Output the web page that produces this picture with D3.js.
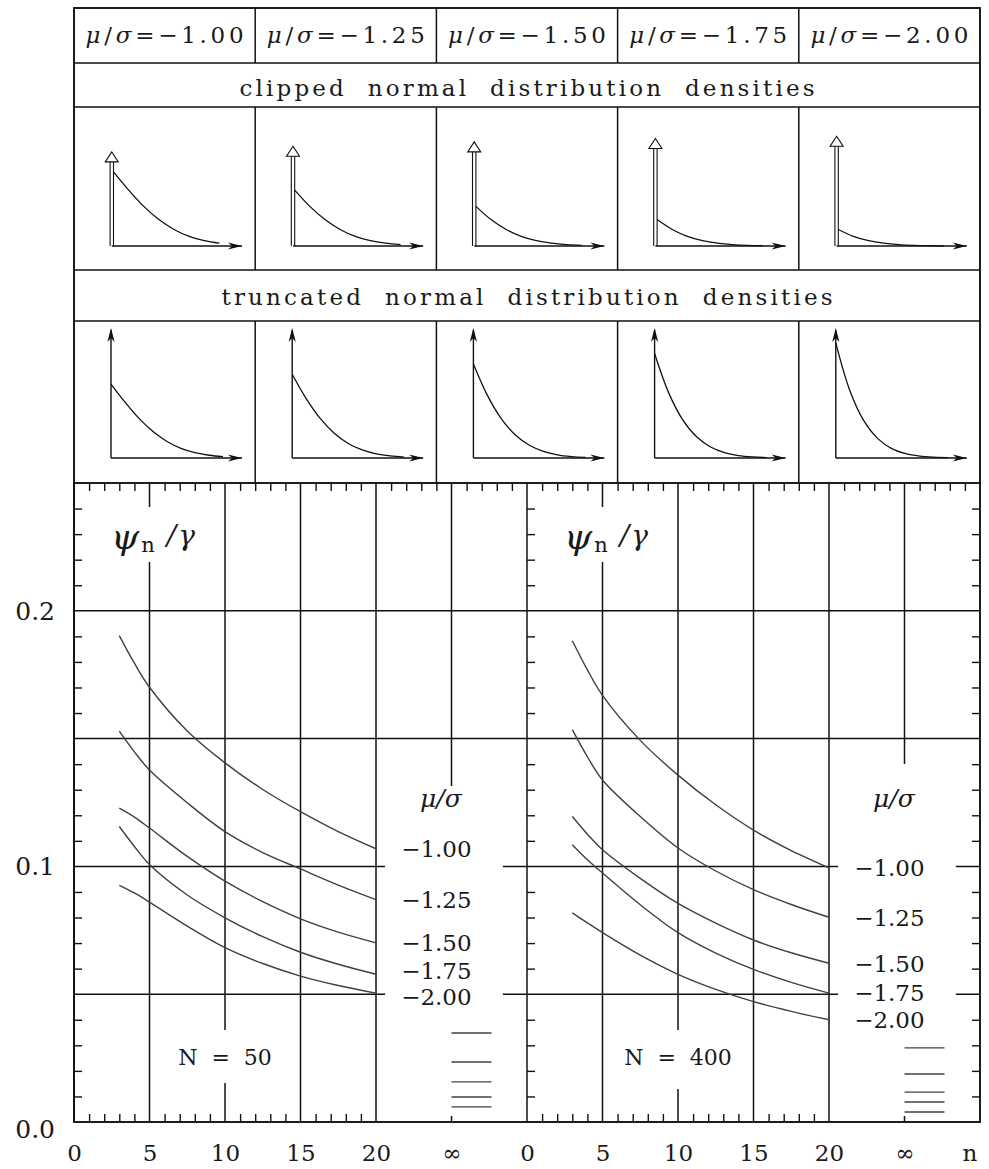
<!DOCTYPE html>
<html>
<head>
<meta charset="utf-8">
<script src="https://cdn.jsdelivr.net/npm/d3@7"></script>
<style>
  body { margin: 0; background: #fff; }
  svg text { font-family: "DejaVu Serif", serif; fill: #1a1a1a; }
</style>
</head>
<body>
<div class="chart"></div>
<script>
// ---- data ----
var muSigma = [-1.00, -1.25, -1.50, -1.75, -2.00];
var sampleSizes = [50, 400];

// psi_n / gamma at these n, one row per mu/sigma
var nValues = [3, 4, 5, 7.5, 10, 12.5, 15, 17.5, 20];
var psiN50 = [
  [0.1903, 0.1795, 0.1701, 0.1530, 0.1405, 0.1301, 0.1214, 0.1136, 0.1069],
  [0.1529, 0.1448, 0.1377, 0.1249, 0.1136, 0.1054, 0.0990, 0.0927, 0.0870],
  [0.1228, 0.1193, 0.1150, 0.1039, 0.0942, 0.0862, 0.0795, 0.0743, 0.0701],
  [0.1156, 0.1078, 0.1007, 0.0888, 0.0799, 0.0725, 0.0664, 0.0617, 0.0578],
  [0.0926, 0.0896, 0.0860, 0.0766, 0.0682, 0.0620, 0.0571, 0.0534, 0.0504]
];
var psiN400 = [
  [0.1883, 0.1769, 0.1669, 0.1493, 0.1357, 0.1241, 0.1142, 0.1062, 0.0994],
  [0.1535, 0.1429, 0.1338, 0.1195, 0.1072, 0.0982, 0.0909, 0.0851, 0.0801],
  [0.1195, 0.1126, 0.1065, 0.0953, 0.0855, 0.0778, 0.0712, 0.0662, 0.0621],
  [0.1085, 0.1026, 0.0974, 0.0850, 0.0741, 0.0661, 0.0597, 0.0546, 0.0504],
  [0.0818, 0.0779, 0.0741, 0.0653, 0.0578, 0.0519, 0.0471, 0.0433, 0.0400]
];
// values at n = infinity (short legend strokes)
var psiInfN50 = [0.0348, 0.0235, 0.0157, 0.0098, 0.0059];
var psiInfN400 = [0.0290, 0.0188, 0.0117, 0.0078, 0.0039];

var xTickValues = [0, 5, 10, 15, 20];
var yTickValues = [0.0, 0.1, 0.2];

// clipped normal: point mass at 0 and density for x > 0
var clipMass = [0.84, 0.89, 0.93, 0.96, 0.98];
var clipX = [0, 0.25, 0.5, 0.75, 1.0, 1.25, 1.5, 1.75];
var clipDensity = [
  [0.2420, 0.1826, 0.1295, 0.0863, 0.0540, 0.0317, 0.0175, 0.0091],
  [0.1826, 0.1295, 0.0863, 0.0540, 0.0317, 0.0175, 0.0091, 0.0044],
  [0.1295, 0.0863, 0.0540, 0.0317, 0.0175, 0.0091, 0.0044, 0.0020],
  [0.0863, 0.0540, 0.0317, 0.0175, 0.0091, 0.0044, 0.0020, 0.0009],
  [0.0540, 0.0317, 0.0175, 0.0091, 0.0044, 0.0020, 0.0009, 0.0004]
];
// truncated normal density
var truncX = [0, 0.25, 0.5, 0.75, 1.0, 1.25, 1.5, 1.75, 2.0];
var truncDensity = [
  [1.525, 1.151, 0.816, 0.544, 0.340, 0.200, 0.110, 0.057, 0.028],
  [1.728, 1.226, 0.817, 0.511, 0.300, 0.166, 0.086, 0.042, 0.019],
  [1.938, 1.292, 0.808, 0.474, 0.262, 0.136, 0.066, 0.030, 0.013],
  [2.154, 1.348, 0.791, 0.437, 0.227, 0.110, 0.050, 0.022, 0.009],
  [2.374, 1.393, 0.769, 0.400, 0.193, 0.088, 0.038, 0.016, 0.006]
];

// ---- layout ----
var width = 989, height = 1169;
var L = 74, R = 980, T = 8, B = 1122;
var rowY = [8, 63, 107, 270, 321, 483];   // table rows
var colW = (R - L) / 5;
var panelW = (R - L) / 2;
var ink = "#111";
var curveInk = "#404040";
var fmtMu = d3.format(".2f");

var svg = d3.select(".chart")
  .append("svg")
  .attr("width", width)
  .attr("height", height);

// ---- table frame ----
var frame = svg.append("g").attr("stroke", ink).attr("stroke-width", 1.5).attr("fill", "none");
frame.append("rect").attr("x", L).attr("y", T).attr("width", R - L).attr("height", B - T);
rowY.slice(1).forEach(function(y) {
  frame.append("line").attr("x1", L).attr("x2", R).attr("y1", y).attr("y2", y);
});
[[rowY[0], rowY[1]], [rowY[2], rowY[3]], [rowY[4], rowY[5]]].forEach(function(r) {
  d3.range(1, 5).forEach(function(k) {
    frame.append("line").attr("x1", L + k * colW).attr("x2", L + k * colW)
      .attr("y1", r[0]).attr("y2", r[1]);
  });
});

// header cells
muSigma.forEach(function(m, i) {
  var t = svg.append("text")
    .attr("x", L + (i + 0.5) * colW)
    .attr("y", 43)
    .attr("text-anchor", "middle")
    .attr("font-size", 23)
    .attr("textLength", 158)
    .attr("lengthAdjust", "spacing");
  t.append("tspan").attr("font-style", "italic").text("μ");
  t.append("tspan").text("/");
  t.append("tspan").attr("font-style", "italic").text("σ");
  t.append("tspan").text("=" + fmtMu(m));
});

function rowTitle(txt, y, len) {
  svg.append("text")
    .attr("x", (L + R) / 2)
    .attr("y", y)
    .attr("text-anchor", "middle")
    .attr("font-size", 23)
    .attr("textLength", len)
    .attr("lengthAdjust", "spacing")
    .style("white-space", "pre")
    .text(txt);
}
rowTitle("clipped  normal  distribution  densities", 96, 575);
rowTitle("truncated  normal  distribution  densities", 305, 611);

// arrow head shapes
function stealth(g, x, y, dir) {
  var p = dir === "right"
    ? [[x, y], [x - 14, y - 3.6], [x - 10, y], [x - 14, y + 3.6]]
    : [[x, y], [x - 3.6, y + 14], [x, y + 10], [x + 3.6, y + 14]];
  g.append("path").attr("d", "M" + p.join("L") + "Z").attr("fill", ink).attr("stroke", "none");
}

// ---- clipped density cells ----
muSigma.forEach(function(m, i) {
  var cx = L + i * colW;
  var g = svg.append("g");
  var x = d3.scaleLinear().domain([0, 1]).range([cx + 39.5, cx + 39.5 + 60.5]);
  var y = d3.scaleLinear().domain([0, 1]).range([246, 246 - 306]);
  var ym = d3.scaleLinear().domain([0, 1]).range([246, 246 - 112]);
  var ox = cx + 37.8;
  g.append("line").attr("x1", ox).attr("x2", cx + 168).attr("y1", 246).attr("y2", 246)
    .attr("stroke", ink).attr("stroke-width", 1.4);
  stealth(g, cx + 168, 246, "right");
  var tip = ym(clipMass[i]);
  [-1.7, 1.7].forEach(function(dx) {
    g.append("line").attr("x1", ox + dx).attr("x2", ox + dx).attr("y1", tip + 10).attr("y2", 246)
      .attr("stroke", ink).attr("stroke-width", 1.1);
  });
  g.append("path")
    .attr("d", "M" + [[ox, tip], [ox - 6.5, tip + 10], [ox + 6.5, tip + 10]].join("L") + "Z")
    .attr("fill", "#fff").attr("stroke", ink).attr("stroke-width", 1.1);
  g.append("path")
    .datum(clipX.map(function(v, k) { return [v, clipDensity[i][k]]; }))
    .attr("d", d3.line().x(function(d) { return x(d[0]); }).y(function(d) { return y(d[1]); })
      .curve(d3.curveCatmullRom.alpha(0.5)))
    .attr("fill", "none").attr("stroke", ink).attr("stroke-width", 1.3);
});

// ---- truncated density cells ----
muSigma.forEach(function(m, i) {
  var cx = L + i * colW;
  var g = svg.append("g");
  var ox = cx + 37;
  var x = d3.scaleLinear().domain([0, 1]).range([ox, ox + 56]);
  var y = d3.scaleLinear().domain([0, 1]).range([458, 458 - 48.5]);
  g.append("line").attr("x1", ox).attr("x2", cx + 168).attr("y1", 458).attr("y2", 458)
    .attr("stroke", ink).attr("stroke-width", 1.4);
  g.append("line").attr("x1", ox).attr("x2", ox).attr("y1", 458).attr("y2", 330)
    .attr("stroke", ink).attr("stroke-width", 1.4);
  stealth(g, cx + 168, 458, "right");
  stealth(g, ox, 328, "up");
  g.append("path")
    .datum(truncX.map(function(v, k) { return [v, truncDensity[i][k]]; }))
    .attr("d", d3.line().x(function(d) { return x(d[0]); }).y(function(d) { return y(d[1]); })
      .curve(d3.curveCatmullRom.alpha(0.5)))
    .attr("fill", "none").attr("stroke", ink).attr("stroke-width", 1.3);
});

// ---- psi_n / gamma panels ----
var ys = d3.scaleLinear().domain([0, 0.25]).range([B, rowY[5]]);

function drawPanel(p, curves, infVals, N) {
  var x0 = L + p * panelW;
  var xs = d3.scaleLinear().domain([0, 30]).range([x0, x0 + panelW]);
  var g = svg.append("g");

  // grid
  g.selectAll(".hgrid").data([0.05, 0.1, 0.15, 0.2]).enter().append("line")
    .attr("x1", x0).attr("x2", x0 + panelW)
    .attr("y1", function(d) { return ys(d); }).attr("y2", function(d) { return ys(d); })
    .attr("stroke", ink).attr("stroke-width", 1.5);
  g.selectAll(".vgrid").data([5, 10, 15, 20, 25]).enter().append("line")
    .attr("x1", function(d) { return xs(d); }).attr("x2", function(d) { return xs(d); })
    .attr("y1", ys(0)).attr("y2", ys(0.25))
    .attr("stroke", ink).attr("stroke-width", 1.5);
  g.append("line").attr("x1", x0).attr("x2", x0).attr("y1", ys(0)).attr("y2", ys(0.25))
    .attr("stroke", ink).attr("stroke-width", 1.5);

  // minor ticks through d3 axes
  var minorY = d3.range(1, 25).filter(function(k) { return k % 5; }).map(function(k) { return k / 100; });
  var minorTop = d3.range(1, 30).filter(function(k) { return k % 5; });
  var minorBot = d3.range(1, 20).filter(function(k) { return k % 5; });
  function ticksOnly(sel) {
    sel.select(".domain").remove();
    sel.selectAll("line").attr("stroke", ink).attr("stroke-width", 1.4);
  }
  g.append("g").attr("transform", "translate(" + x0 + ",0)")
    .call(d3.axisRight(ys).tickValues(minorY).tickSize(8).tickFormat(""))
    .call(ticksOnly);
  if (p === 1) {
    g.append("g").attr("transform", "translate(" + (x0 + panelW) + ",0)")
      .call(d3.axisLeft(ys).tickValues(minorY).tickSize(8).tickFormat(""))
      .call(ticksOnly);
  }
  g.append("g").attr("transform", "translate(0," + ys(0.25) + ")")
    .call(d3.axisBottom(xs).tickValues(minorTop).tickSize(8).tickFormat(""))
    .call(ticksOnly);
  g.append("g").attr("transform", "translate(0," + ys(0) + ")")
    .call(d3.axisTop(xs).tickValues(minorBot).tickSize(8).tickFormat(""))
    .call(ticksOnly);

  // curves
  var line = d3.line()
    .x(function(d, k) { return xs(nValues[k]); })
    .y(function(d) { return ys(d); })
    .curve(d3.curveCatmullRom.alpha(0.5));
  g.selectAll(".curve").data(curves).enter().append("path")
    .attr("d", line)
    .attr("fill", "none").attr("stroke", curveInk).attr("stroke-width", 1.4);

  // white boxes behind the labels
  var wh = g.append("g").attr("fill", "#fff");
  wh.append("rect").attr("x", xs(1.7)).attr("y", 507)
    .attr("width", xs(8.4) - xs(1.7)).attr("height", 55);
  var boxTop = p === 0 ? 786 : 764;
  wh.append("rect").attr("x", xs(20.6)).attr("y", boxTop)
    .attr("width", xs(28.4) - xs(20.6)).attr("height", 1116 - boxTop);
  wh.append("rect").attr("x", xs(6)).attr("y", 1030)
    .attr("width", xs(14) - xs(6)).attr("height", p === 0 ? 53 : 59);

  // psi_n / gamma label
  var lab = g.append("text").attr("x", xs(2.45)).attr("y", 549);
  lab.append("tspan").attr("font-style", "italic").attr("font-size", 36).text("ψ");
  lab.append("tspan").attr("font-size", 21).attr("dy", 3).attr("dx", 2).text("n");
  lab.append("tspan").attr("font-size", 28).attr("font-style", "italic").attr("dy", -7).attr("dx", 12).text("/");
  lab.append("tspan").attr("font-size", 28).attr("font-style", "italic").attr("dx", 2).text("γ");

  // N label
  g.append("text").attr("x", xs(10)).attr("y", 1057).attr("dy", "0.36em")
    .attr("text-anchor", "middle").attr("font-size", 22)
    .style("white-space", "pre")
    .text("N  =  " + N);

  // legend: mu/sigma title, labels at curve ends, strokes at infinity
  g.append("text").attr("x", xs(24.3)).attr("y", 798).attr("dy", "0.36em")
    .attr("text-anchor", "middle").attr("font-size", 25).attr("font-style", "italic")
    .text("μ/σ");
  var labY = curves.map(function(c) { return ys(c[c.length - 1]); });
  for (var k = 1; k < labY.length; k++) {
    var gap = labY[k] - labY[k - 1];
    if (gap < 26) { labY[k - 1] -= (26 - gap) / 2; labY[k] += (26 - gap) / 2; }
  }
  g.selectAll(".mulab").data(muSigma).enter().append("text")
    .attr("x", xs(24)).attr("y", function(d, k) { return labY[k]; }).attr("dy", "0.36em")
    .attr("text-anchor", "middle").attr("font-size", 23)
    .text(function(d) { return fmtMu(d); });
  g.selectAll(".inf").data(infVals).enter().append("line")
    .attr("x1", xs(25)).attr("x2", xs(27.65))
    .attr("y1", function(d) { return ys(d); }).attr("y2", function(d) { return ys(d); })
    .attr("stroke", curveInk).attr("stroke-width", 1.4);

  // x tick labels
  var ax = g.append("g").attr("transform", "translate(0," + ys(0) + ")")
    .call(d3.axisBottom(xs).tickValues(xTickValues.concat([25])).tickSize(0).tickPadding(23)
      .tickFormat(function(d) { return d === 25 ? "∞" : d; }));
  ax.select(".domain").remove();
  ax.selectAll("text").attr("font-size", 23).attr("font-family", "DejaVu Serif").attr("fill", "#1a1a1a");

  if (p === 0) {
    var ay = g.append("g").attr("transform", "translate(" + x0 + ",0)")
      .call(d3.axisLeft(ys).tickValues(yTickValues).tickSize(0).tickPadding(19)
        .tickFormat(d3.format(".1f")));
    ay.select(".domain").remove();
    ay.selectAll("text").attr("font-size", 25).attr("font-family", "DejaVu Serif").attr("fill", "#1a1a1a")
      .attr("dy", function(d) { return d === 0 ? "0.62em" : "0.34em"; });
  } else {
    g.append("text").attr("x", 970).attr("y", ys(0)).attr("dy", 39)
      .attr("text-anchor", "middle").attr("font-size", 23).text("n");
  }
}

drawPanel(0, psiN50, psiInfN50, sampleSizes[0]);
drawPanel(1, psiN400, psiInfN400, sampleSizes[1]);

// outer frame on top
svg.append("rect").attr("x", L).attr("y", T).attr("width", R - L).attr("height", B - T)
  .attr("fill", "none").attr("stroke", ink).attr("stroke-width", 1.6);
svg.append("line").attr("x1", L).attr("x2", R).attr("y1", rowY[5]).attr("y2", rowY[5])
  .attr("stroke", ink).attr("stroke-width", 1.5);
</script>
</body>
</html>
